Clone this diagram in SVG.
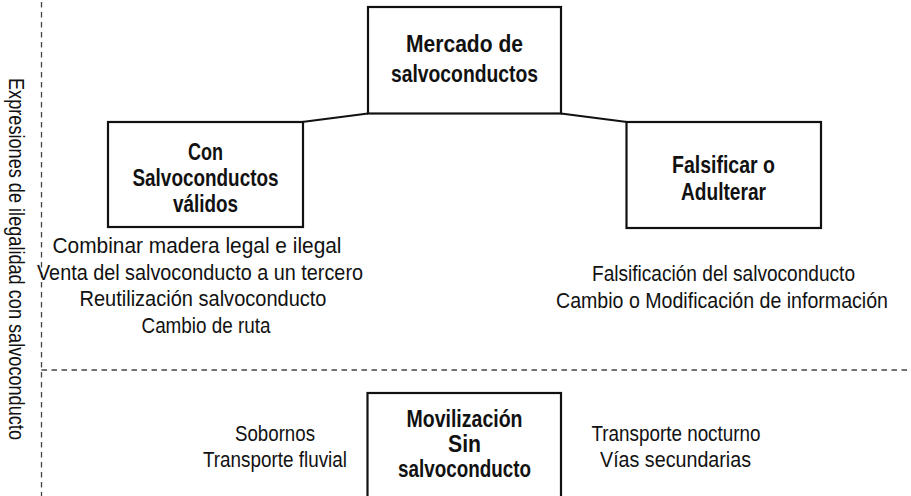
<svg xmlns="http://www.w3.org/2000/svg" width="911" height="496" viewBox="0 0 911 496">
<style>
.box{fill:#fff;stroke:#111;stroke-width:2.2}
.b{font-family:"Liberation Sans",Arial,sans-serif;font-weight:bold;font-size:24px;fill:#111;text-anchor:middle}
.r{font-family:"Liberation Sans",Arial,sans-serif;font-size:21.5px;fill:#111;text-anchor:middle}
.dash{stroke:#444;stroke-width:1.3;stroke-dasharray:5.5 4.5;fill:none}
.conn{stroke:#111;stroke-width:2.2;fill:none}
</style>
<rect width="911" height="496" fill="#fff"/>
<g id="separators">
<line class="dash" x1="41.5" y1="2" x2="41.5" y2="496"/>
<line class="dash" x1="41.5" y1="370" x2="911" y2="370"/>
</g>
<text class="r" transform="translate(8.5,259) rotate(90)" x="0" y="0" textLength="362" lengthAdjust="spacingAndGlyphs">Expresiones de ilegalidad con salvoconducto</text>
<g id="connectors">
<line class="conn" x1="302" y1="122" x2="368" y2="113.5"/>
<line class="conn" x1="561" y1="113.5" x2="627" y2="122"/>
</g>
<g id="mercado">
<rect class="box" x="368" y="7" width="193" height="106.5"/>
<text class="b" x="464.5" y="51.5" textLength="117" lengthAdjust="spacingAndGlyphs">Mercado de</text>
<text class="b" x="464.5" y="82" textLength="147" lengthAdjust="spacingAndGlyphs">salvoconductos</text>
</g>
<g id="con-salvoconductos">
<rect class="box" x="108" y="122" width="195" height="105"/>
<text class="b" x="205.5" y="159.5" textLength="35" lengthAdjust="spacingAndGlyphs">Con</text>
<text class="b" x="205.5" y="186" textLength="146" lengthAdjust="spacingAndGlyphs">Salvoconductos</text>
<text class="b" x="205.5" y="212" textLength="65" lengthAdjust="spacingAndGlyphs">válidos</text>
</g>
<g id="con-list">
<text class="r" x="197" y="253" textLength="289" lengthAdjust="spacingAndGlyphs">Combinar madera legal e ilegal</text>
<text class="r" x="200" y="279.5" textLength="326" lengthAdjust="spacingAndGlyphs">Venta del salvoconducto a un tercero</text>
<text class="r" x="203" y="306" textLength="247" lengthAdjust="spacingAndGlyphs">Reutilización salvoconducto</text>
<text class="r" x="206" y="332.5" textLength="129" lengthAdjust="spacingAndGlyphs">Cambio de ruta</text>
</g>
<g id="falsificar">
<rect class="box" x="626.5" y="122" width="194.5" height="106"/>
<text class="b" x="723.5" y="173" textLength="103" lengthAdjust="spacingAndGlyphs">Falsificar o</text>
<text class="b" x="723.5" y="200" textLength="85" lengthAdjust="spacingAndGlyphs">Adulterar</text>
</g>
<g id="falsificar-list">
<text class="r" x="723.5" y="281" textLength="263" lengthAdjust="spacingAndGlyphs">Falsificación del salvoconducto</text>
<text class="r" x="722" y="307.5" textLength="332" lengthAdjust="spacingAndGlyphs">Cambio o Modificación de información</text>
</g>
<g id="movilizacion">
<rect class="box" x="367.5" y="393" width="193.5" height="110"/>
<text class="b" x="464.5" y="427" textLength="116" lengthAdjust="spacingAndGlyphs">Movilización</text>
<text class="b" x="464.5" y="451.5" textLength="33" lengthAdjust="spacingAndGlyphs">Sin</text>
<text class="b" x="464.5" y="477" textLength="133" lengthAdjust="spacingAndGlyphs">salvoconducto</text>
</g>
<g id="movilizacion-left">
<text class="r" x="275" y="440.5" textLength="80" lengthAdjust="spacingAndGlyphs">Sobornos</text>
<text class="r" x="275" y="466.5" textLength="144" lengthAdjust="spacingAndGlyphs">Transporte fluvial</text>
</g>
<g id="movilizacion-right">
<text class="r" x="676" y="440.5" textLength="169" lengthAdjust="spacingAndGlyphs">Transporte nocturno</text>
<text class="r" x="675.5" y="466.5" textLength="151" lengthAdjust="spacingAndGlyphs">Vías secundarias</text>
</g>
</svg>
